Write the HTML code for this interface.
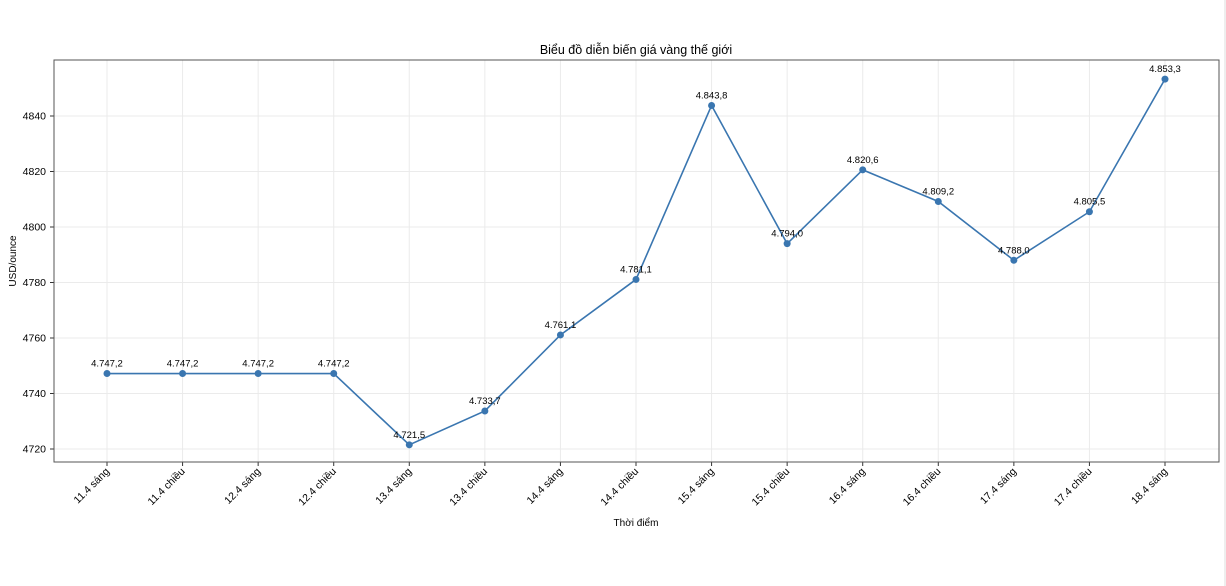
<!DOCTYPE html>
<html><head><meta charset="utf-8"><style>
body{margin:0;background:#fff;}
svg{display:block;font-family:"Liberation Sans","DejaVu Sans",sans-serif;}
</style></head><body>
<svg id="chart" width="1226" height="586" viewBox="0 0 1226 586">
<line x1="1225" y1="0" x2="1225" y2="586" stroke="#ddd" stroke-width="1"/>
<text x="636" y="54" text-anchor="middle" font-size="12.5" fill="#000">Biểu đồ diễn biến giá vàng thế giới</text>
<g id="grid"></g>
<g id="axes"></g>
<g id="series"></g>
<text x="636" y="526" text-anchor="middle" font-size="10" fill="#000">Thời điểm</text>
<text transform="translate(16,261) rotate(-90)" text-anchor="middle" font-size="10" fill="#000">USD/ounce</text>
</svg>
<script>
const categories=["11.4 sáng","11.4 chiều","12.4 sáng","12.4 chiều","13.4 sáng","13.4 chiều","14.4 sáng","14.4 chiều","15.4 sáng","15.4 chiều","16.4 sáng","16.4 chiều","17.4 sáng","17.4 chiều","18.4 sáng"];
const prices=[4747.2,4747.2,4747.2,4747.2,4721.5,4733.7,4761.1,4781.1,4843.8,4794.0,4820.6,4809.2,4788.0,4805.5,4853.3];
const priceLabels=["4.747,2","4.747,2","4.747,2","4.747,2","4.721,5","4.733,7","4.761,1","4.781,1","4.843,8","4.794,0","4.820,6","4.809,2","4.788,0","4.805,5","4.853,3"];
const yTicks=[4720,4740,4760,4780,4800,4820,4840];

const NS="http://www.w3.org/2000/svg";
const L=54,R=1219,T=60,B=462;
const yMin=4720-(B-449)/2.775, yMax=4720+(449-T)/2.775;
function xPos(i){return 107+i*(1165-107)/(categories.length-1);}
function yPos(v){return B-(v-yMin)/(yMax-yMin)*(B-T);}
function mk(tag,attrs,parent){const e=document.createElementNS(NS,tag);for(const k in attrs)e.setAttribute(k,attrs[k]);parent.appendChild(e);return e;}
const grid=document.getElementById('grid'),axes=document.getElementById('axes'),series=document.getElementById('series');

yTicks.forEach(v=>{
  const y=yPos(v);
  const g=mk('line',{x1:L,x2:R,y1:y,y2:y,stroke:'#ebebeb','stroke-width':1},grid);
  
  
  mk('line',{x1:L-4,x2:L,y1:y,y2:y,stroke:'#333'},axes);
  const t=mk('text',{x:L-8,y:y+3.5,'text-anchor':'end','font-size':10.5,fill:'#000'},axes);
  t.textContent=v;
  
  
});
categories.forEach((c,i)=>{
  const x=xPos(i);
  const g=mk('line',{x1:x,x2:x,y1:T,y2:B,stroke:'#ebebeb','stroke-width':1},grid);
  
  
  mk('line',{x1:x,x2:x,y1:B,y2:B+4,stroke:'#333'},axes);
  const t=mk('text',{x:0,y:0,'text-anchor':'end','font-size':10.5,fill:'#000',transform:`translate(${x+3},${B+10}) rotate(-45)`},axes);
  t.textContent=c;
  
  
});
const frame=mk('rect',{x:L,y:T,width:R-L,height:B-T,fill:'none',stroke:'#555','stroke-width':1},axes);



const pts=prices.map((v,i)=>xPos(i)+','+yPos(v)).join(' ');
const line=mk('polyline',{points:pts,fill:'none',stroke:'#3a76b0','stroke-width':1.6},series);


prices.forEach((v,i)=>{
  const c=mk('circle',{cx:xPos(i),cy:yPos(v),r:3.5,fill:'#3a76b0'},series);
  
  
  const t=mk('text',{x:xPos(i),y:yPos(v)-7,'text-anchor':'middle','font-size':9.5,fill:'#000'},series);
  t.textContent=priceLabels[i];
  
  
});
</script>
</body></html>
